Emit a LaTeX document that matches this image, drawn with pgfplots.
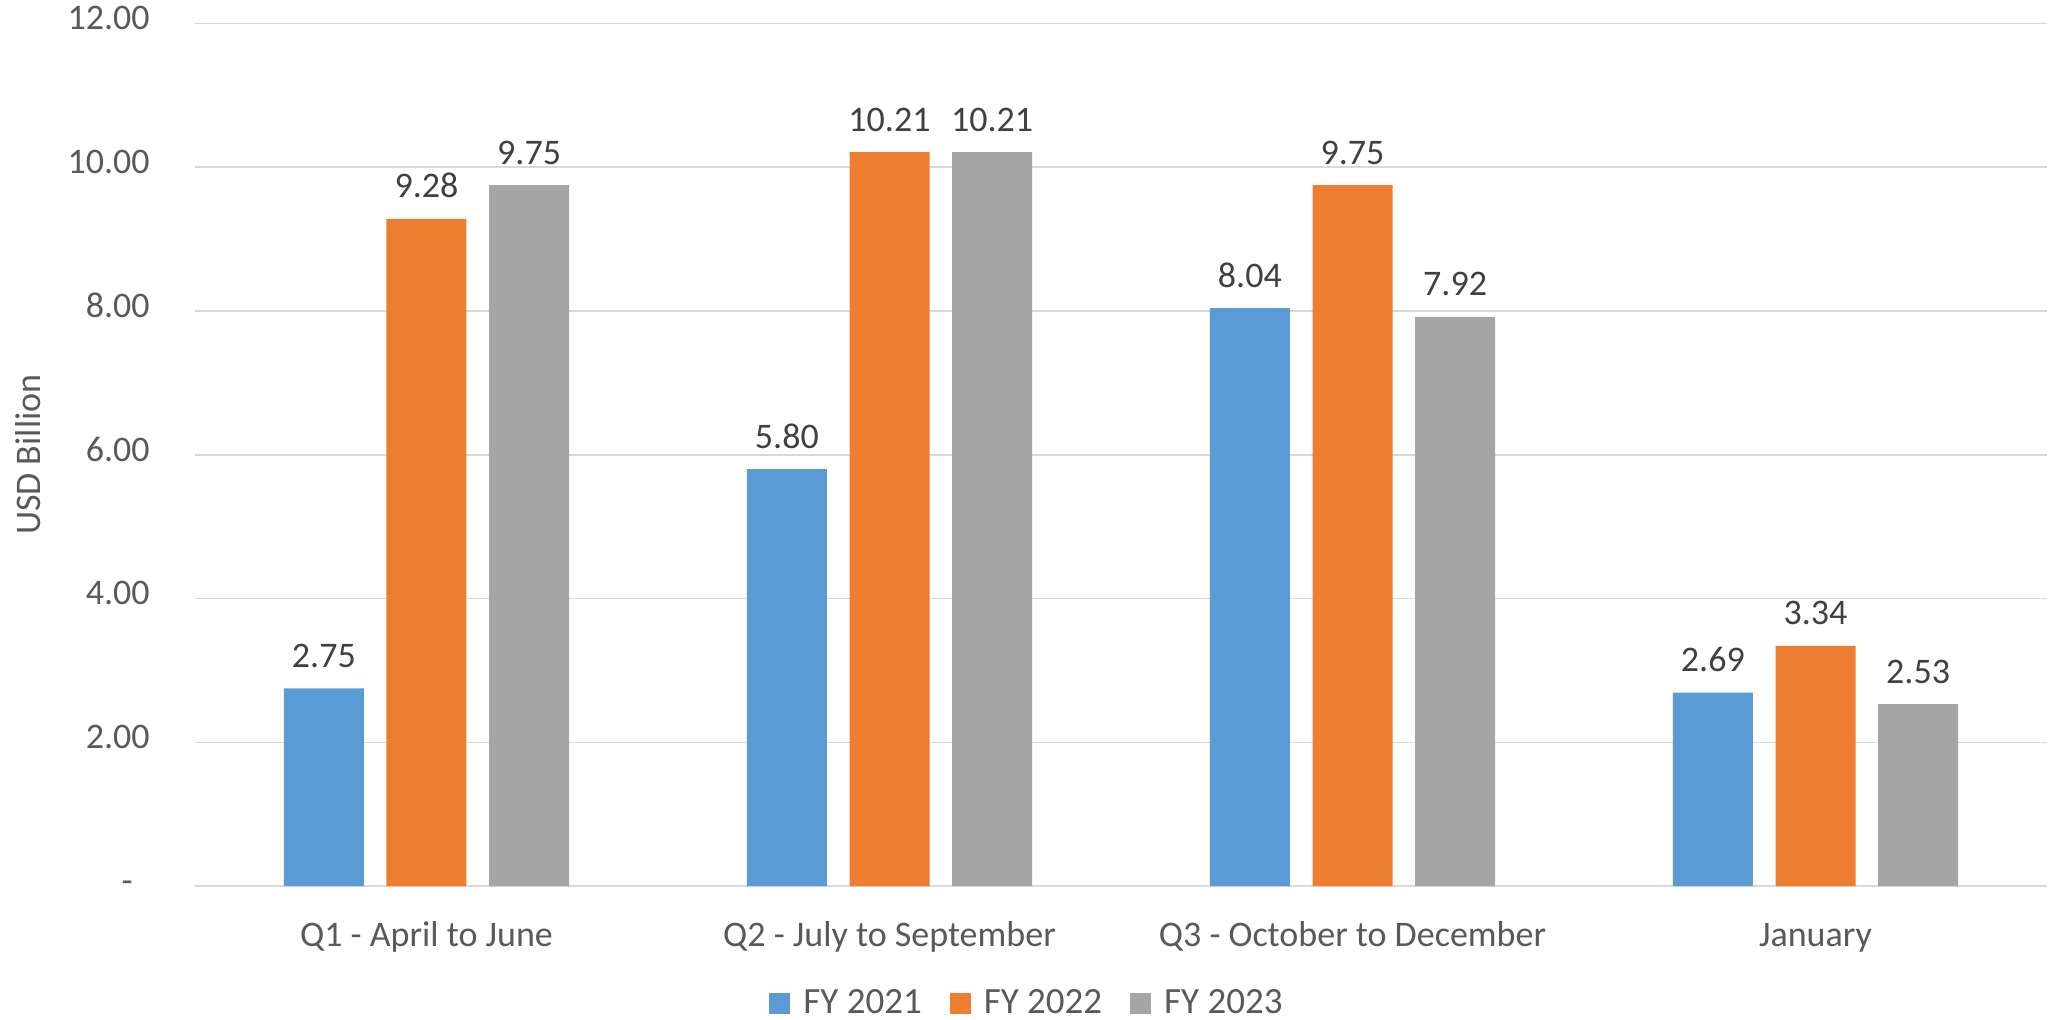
\documentclass[border=0pt]{standalone}
\usepackage{fontspec}
\setmainfont{Carlito}
\usepackage{pgfplots}
\pgfplotsset{compat=1.18}

\definecolor{fyblue}{HTML}{5B9BD5}
\definecolor{fyorange}{HTML}{ED7D31}
\definecolor{fygray}{HTML}{A5A5A5}
\definecolor{gridgray}{HTML}{D9D9D9}
\definecolor{ticktext}{HTML}{595959}
\definecolor{labeltext}{HTML}{404040}

\newcommand{\chartfont}{\fontsize{18}{21}\selectfont}

\begin{document}
\begin{tikzpicture}
\begin{axis}[
  scale only axis,
  width=926pt, height=431.25pt,
  ybar=11.3pt, bar width=40pt,
  xmin=-0.5, xmax=3.5,
  ymin=0, ymax=12,
  enlargelimits=false,
  axis line style={draw=none},
  major tick length=0pt,
  xtick={0,1,2,3},
  xticklabels={Q1 - April to June, Q2 - July to September, Q3 - October to December, January},
  ytick={0,2,4,6,8,10,12},
  yticklabels={-\hspace*{8.5pt},2.00,4.00,6.00,8.00,10.00,12.00},
  ymajorgrids,
  grid style={draw=gridgray, line width=0.75pt},
  tick label style={font=\chartfont, text=ticktext},
  yticklabel style={anchor=base east, inner sep=0pt, xshift=-22.5pt, yshift=-0.32em},
  xticklabel style={anchor=base, inner sep=0pt, yshift=-30.25pt},
  ylabel={USD Billion},
  every axis y label/.style={at={(axis description cs:-0.0902,0.5)}, rotate=90, anchor=center, font=\chartfont, text=ticktext},
  nodes near coords={\pgfmathprintnumber[fixed,fixed zerofill,precision=2,assume math mode=true]{\pgfplotspointmeta}},
  every node near coord/.append style={font=\chartfont, text=labeltext, anchor=base, inner sep=0pt, yshift=10.5pt},
  legend columns=3,
  legend style={at={(axis description cs:0.4498,-0.1357)}, anchor=center, draw=none, fill=none,
    font=\fontsize{18.5}{21}\selectfont, text=ticktext, inner sep=0pt,
    /tikz/every odd column/.append style={column sep=4.5pt},
    /tikz/every even column/.append style={column sep=12pt}},
  legend image code/.code={\fill[#1] (0pt,-5.25pt) rectangle (10.5pt,5.25pt);},
]
\addplot[fill=fyblue, draw=none] coordinates {(0,2.75) (1,5.80) (2,8.04) (3,2.69)};
\addplot[fill=fyorange, draw=none] coordinates {(0,9.28) (1,10.21) (2,9.75) (3,3.34)};
\addplot[fill=fygray, draw=none] coordinates {(0,9.75) (1,10.21) (2,7.92) (3,2.53)};
\legend{FY 2021, FY 2022, FY 2023}
\end{axis}
\pgfresetboundingbox
\path (-97.5pt,-66.5pt) rectangle (927.5pt,443pt);
\end{tikzpicture}
\end{document}
